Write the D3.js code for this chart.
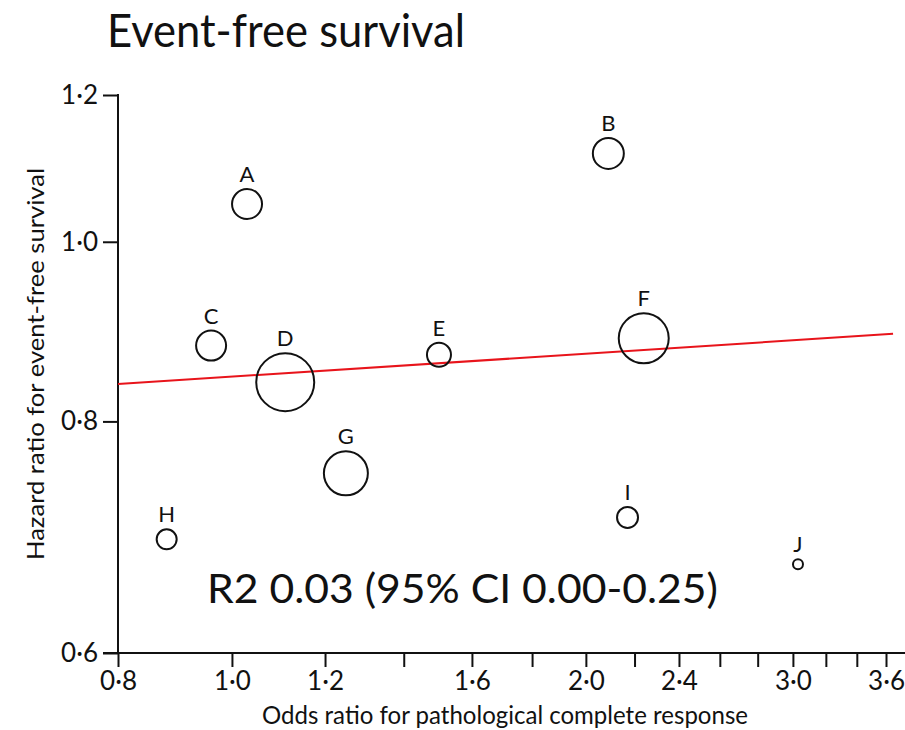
<!DOCTYPE html>
<html>
<head>
<meta charset="utf-8">
<script src="https://cdn.jsdelivr.net/npm/d3@7"></script>
<style>
  body { margin: 0; background: #fff; }
  text { font-family: Lato, "Open Sans", sans-serif; fill: #111; }
</style>
</head>
<body>
<script>
const width = 905;
const height = 730;

// studies
const studies = ["A", "B", "C", "D", "E", "F", "G", "H", "I", "J"];
const oddsRatio = [1.03, 2.09, 0.96, 1.11, 1.50, 2.24, 1.25, 0.88, 2.17, 3.03];
const hazardRatio = [1.048, 1.116, 0.879, 0.840, 0.869, 0.887, 0.750, 0.691, 0.710, 0.670];
const weights = [225, 240, 225, 841, 144, 625, 484, 100, 110, 25];

// regression line end points
const fitX = [0.8, 3.65];
const fitY = [0.838, 0.892];

const xTicks = [0.8, 1.0, 1.2, 1.4, 1.6, 1.8, 2.0, 2.2, 2.4, 2.6, 2.8, 3.0, 3.2, 3.4, 3.6];
const xLabelled = [0.8, 1.0, 1.2, 1.6, 2.0, 2.4, 3.0, 3.6];
const yTicks = [0.6, 0.8, 1.0, 1.2];

const fmt = v => d3.format(".1f")(v).replace(".", "·");

const x = d3.scaleLog().domain([0.8, 3.6]).range([118, 886]);
const y = d3.scaleLog().domain([0.6, 1.2]).range([653, 95]);
const r = d3.scaleSqrt().domain([0, 841]).range([0, 29]);

const svg = d3.select("body").append("svg")
  .attr("width", width)
  .attr("height", height);

svg.append("text")
  .attr("x", 107).attr("y", 47)
  .attr("font-size", 46)
  .attr("textLength", 358)
  .attr("lengthAdjust", "spacingAndGlyphs")
  .text("Event-free survival");

// x axis
const xAxis = svg.append("g")
  .attr("transform", `translate(0,${y(0.6)})`)
  .call(d3.axisBottom(x)
    .tickValues(xTicks)
    .tickSize(14)
    .tickFormat(d => xLabelled.includes(d) ? fmt(d) : ""));
xAxis.select(".domain").remove();
xAxis.append("line")
  .attr("x1", 103).attr("x2", 905)
  .attr("stroke", "#111").attr("stroke-width", 2);
xAxis.selectAll(".tick line").attr("stroke", "#111").attr("stroke-width", 2);
xAxis.selectAll(".tick text")
  .attr("y", 19)
  .attr("font-size", 26)
  .attr("font-family", "Lato, sans-serif")
  .attr("fill", "#111");

// y axis
const yAxis = svg.append("g")
  .attr("transform", `translate(${x(0.8)},0)`)
  .call(d3.axisLeft(y)
    .tickValues(yTicks)
    .tickSize(15)
    .tickPadding(5)
    .tickFormat(fmt));
yAxis.select(".domain").remove();
yAxis.append("line")
  .attr("y1", y(1.2) - 1).attr("y2", y(0.6))
  .attr("stroke", "#111").attr("stroke-width", 2);
yAxis.selectAll(".tick line").attr("stroke", "#111").attr("stroke-width", 2);
yAxis.selectAll(".tick text")
  .attr("font-size", 26)
  .attr("font-family", "Lato, sans-serif")
  .attr("fill", "#111");

// axis titles
svg.append("text")
  .attr("x", 505).attr("y", 724)
  .attr("text-anchor", "middle")
  .attr("font-size", 25)
  .attr("textLength", 486)
  .attr("lengthAdjust", "spacingAndGlyphs")
  .text("Odds ratio for pathological complete response");

svg.append("text")
  .attr("transform", "translate(44,364) rotate(-90)")
  .attr("text-anchor", "middle")
  .attr("font-size", 24)
  .attr("textLength", 392)
  .attr("lengthAdjust", "spacingAndGlyphs")
  .text("Hazard ratio for event-free survival");

// regression line
svg.append("line")
  .attr("x1", x(fitX[0])).attr("y1", y(fitY[0]))
  .attr("x2", x(fitX[1])).attr("y2", y(fitY[1]))
  .attr("stroke", "#e8141b")
  .attr("stroke-width", 2);

const pts = studies.map((s, i) => ({
  name: s, or: oddsRatio[i], hr: hazardRatio[i], w: weights[i]
}));

svg.selectAll("circle.study").data(pts)
  .join("circle")
  .attr("class", "study")
  .attr("cx", d => x(d.or))
  .attr("cy", d => y(d.hr))
  .attr("r", d => r(d.w))
  .attr("fill", "none")
  .attr("stroke", "#111")
  .attr("stroke-width", 2);

svg.selectAll("text.lab").data(pts)
  .join("text")
  .attr("class", "lab")
  .attr("x", d => x(d.or))
  .attr("y", d => y(d.hr) - r(d.w) - 7)
  .attr("text-anchor", "middle")
  .attr("font-size", 22)
  .text(d => d.name);

svg.append("text")
  .attr("x", 207).attr("y", 603)
  .attr("font-size", 40)
  .attr("textLength", 511)
  .attr("lengthAdjust", "spacingAndGlyphs")
  .text("R2 0.03 (95% CI 0.00-0.25)");
</script>
</body>
</html>
